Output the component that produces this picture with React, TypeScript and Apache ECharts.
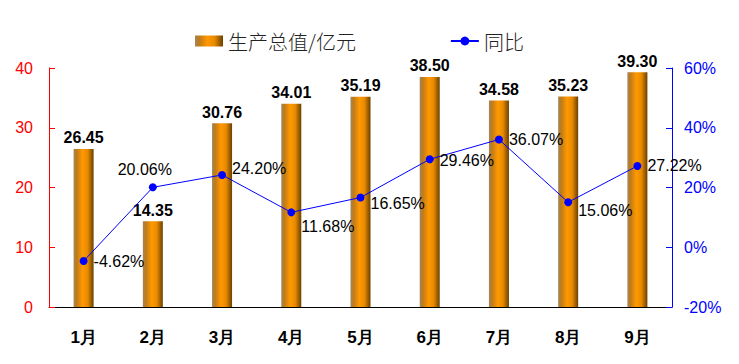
import React, { useEffect, useRef } from "react";
import * as echarts from "echarts";

const categories = ["1月", "2月", "3月", "4月", "5月", "6月", "7月", "8月", "9月"];
const outputValues = [26.45, 14.35, 30.76, 34.01, 35.19, 38.5, 34.58, 35.23, 39.3];
const yoyValues = [-4.62, 20.06, 24.2, 11.68, 16.65, 29.46, 36.07, 15.06, 27.22];
const leftTicks = { min: 0, max: 40, interval: 10 };
const rightTicks = { min: -20, max: 60, interval: 20 };

const labelOffsets: [number, number][] = [
  [0, 0], [-8, 0], [0, -6], [0, 14], [0, 6], [0, 1], [0, 0], [0, 8], [0, 0],
];

export default function App() {
  const ref = useRef<HTMLDivElement>(null);
  useEffect(() => {
    if (!ref.current) return;
    const chart = echarts.init(ref.current, null, { renderer: "svg" });
    const barColor = new echarts.graphic.LinearGradient(0, 0, 1, 0, [
      { offset: 0, color: "#A08660" },
      { offset: 0.15, color: "#C07A18" },
      { offset: 0.45, color: "#FF9900" },
      { offset: 0.7, color: "#E88A00" },
      { offset: 1, color: "#6A4000" },
    ]);
    const font = "Liberation Sans, Arial, sans-serif";
    chart.setOption({
      animation: false,
      backgroundColor: "#fff",
      legend: {
        top: 26,
        left: 190,
        itemGap: 94,
        itemWidth: 28,
        itemHeight: 11,
        textStyle: { fontSize: 20, color: "#222", fontFamily: "Noto Sans CJK SC", fontWeight: 300 },
        data: [
          { name: "生产总值/亿元", icon: "rect" },
          { name: "同比" },
        ],
      },
      grid: { left: 49, right: 67, top: 68, bottom: 57 },
      xAxis: [
        {
          type: "category",
          data: categories,
          axisLine: { lineStyle: { color: "#000", width: 1 } },
          axisTick: { alignWithLabel: true, length: 5, lineStyle: { color: "#000" } },
          axisLabel: { fontSize: 17, fontWeight: "bold", color: "#000", margin: 22, fontFamily: font },
        },
        {
          type: "category",
          data: categories,
          position: "bottom",
          axisLine: { show: false },
          axisTick: { length: 5, lineStyle: { color: "#000" } },
          axisLabel: { show: false },
        },
      ],
      yAxis: [
        {
          type: "value",
          min: leftTicks.min,
          max: leftTicks.max,
          interval: leftTicks.interval,
          axisLine: { show: true, lineStyle: { color: "#FF0000" } },
          axisTick: { show: true, inside: true, length: 6, lineStyle: { color: "#FF0000" } },
          splitLine: { show: false },
          axisLabel: { color: "#FF0000", fontSize: 16, margin: 16, fontFamily: font },
        },
        {
          type: "value",
          min: rightTicks.min,
          max: rightTicks.max,
          interval: rightTicks.interval,
          position: "right",
          axisLine: { show: true, lineStyle: { color: "#0000FF" } },
          axisTick: { show: true, inside: true, length: 6, lineStyle: { color: "#0000FF" } },
          splitLine: { show: false },
          axisLabel: { color: "#0000FF", fontSize: 16, margin: 12, fontFamily: font, formatter: "{value}%" },
        },
      ],
      series: [
        {
          name: "生产总值/亿元",
          type: "bar",
          data: outputValues,
          barWidth: 20,
          itemStyle: { color: barColor },
          label: {
            show: true,
            position: "top",
            distance: 3,
            fontSize: 16,
            fontWeight: "bold",
            color: "#000",
            fontFamily: font,
            formatter: (p: any) => p.value.toFixed(2),
          },
        },
        {
          name: "同比",
          type: "line",
          yAxisIndex: 1,
          data: yoyValues.map((v, i) => ({
            value: v,
            label: {
              position: i === 1 ? "top" : "right",
              offset: labelOffsets[i],
            },
          })),
          symbol: "circle",
          symbolSize: 8,
          lineStyle: { color: "#0000FF", width: 1 },
          itemStyle: { color: "#0000FF" },
          label: {
            show: true,
            fontSize: 16,
            color: "#000",
            fontFamily: font,
            distance: 6,
            formatter: (p: any) => p.value.toFixed(2) + "%",
          },
        },
      ],
    });
    return () => chart.dispose();
  }, []);
  return <div ref={ref} style={{ position: "fixed", left: 0, top: 0, width: 739, height: 364 }} />;
}
